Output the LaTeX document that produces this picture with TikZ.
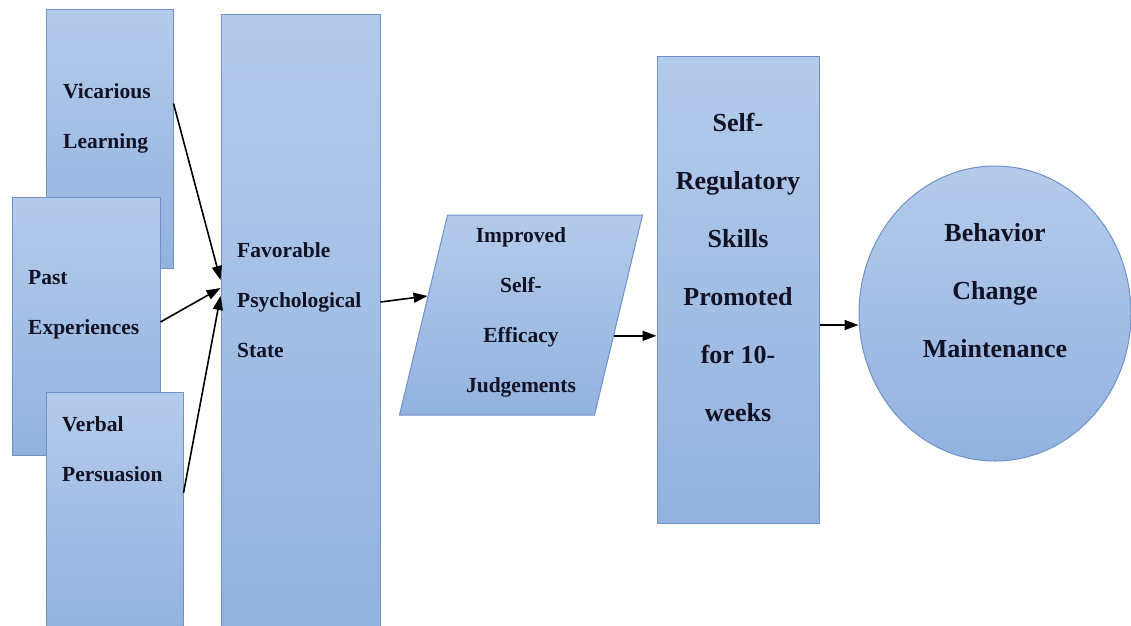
\documentclass[tikz,border=0pt]{standalone}
\usepackage{fontspec}
\setmainfont{Liberation Serif}
\usetikzlibrary{shapes.geometric, arrows.meta}
\definecolor{boxtop}{RGB}{180,203,235}
\definecolor{boxbot}{RGB}{146,178,223}
\definecolor{boxline}{RGB}{112,145,198}
\definecolor{ink}{RGB}{18,18,36}
\tikzstyle{box} = [draw=boxline, line width=1pt, top color=boxtop, bottom color=boxbot, inner sep=0pt]
\tikzstyle{lbl} = [text=ink, font=\bfseries\fontsize{21.5}{50}\selectfont, inner sep=0pt]
\tikzstyle{biglbl} = [text=ink, font=\bfseries\fontsize{26}{58}\selectfont, inner sep=0pt, align=center]
\tikzstyle{arrow} = [line width=1.6pt, -{Triangle[length=14pt,width=10pt]}]

\begin{document}
\begin{tikzpicture}[x=1pt, y=-1pt]
        \useasboundingbox (0,0) rectangle (1131,625);

        \node(vic) [box, shape=rectangle, minimum width=127pt, minimum height=259pt] at (109.5,138.5) {};
        \node(vicT) [lbl, align=left, anchor=west] at (63,118) {Vicarious\\Learning};
        \node(past) [box, shape=rectangle, minimum width=148pt, minimum height=258pt] at (86,326) {};
        \node(pastT) [lbl, align=left, anchor=west] at (28,304.5) {Past\\Experiences};
        \node(verbal) [box, shape=rectangle, minimum width=137pt, minimum height=240pt] at (114.5,512) {};
        \node(verbalT) [lbl, align=left, anchor=west] at (62,449) {Verbal\\Persuasion};

        \node(fav) [box, shape=rectangle, minimum width=159pt, minimum height=618pt] at (300.5,323) {};
        \node(favT) [lbl, align=left, anchor=west] at (237,300) {Favorable\\Psychological\\State};

        \node(ij) [box, shape=rectangle, minimum width=195pt, minimum height=200pt, xslant=0.24, transform shape] at (521,315) {};
        \node(ijT) [lbl, align=center] at (521,312) {Improved\\Self-\\Efficacy\\Judgements};

        \node(sr) [box, shape=rectangle, minimum width=162pt, minimum height=467pt] at (738,289.5) {};
        \node(srT) [biglbl] at (738,267.5) {Self-\\Regulatory\\Skills\\Promoted\\for 10-\\weeks};

        \node(bcm) [box, shape=ellipse, minimum width=272pt, minimum height=295pt] at (995,313.5) {};
        \node(bcmT) [biglbl] at (995,291) {Behavior\\Change\\Maintenance};

        \draw[arrow] ([yshift=35pt]vic.east) -- ([yshift=43pt]fav.west);
        \draw[arrow] ([yshift=4pt]past.east) -- ([yshift=35pt]fav.west);
        \draw[arrow] ([yshift=19pt]verbal.east) -- ([yshift=27pt]fav.west);

        \draw[arrow] ([yshift=21pt]fav.east) -- (ij.169);
        \draw[arrow] (ij.-12) -- (ij.-12 -| sr.west);
        \draw[arrow] ([yshift=-35.5pt]sr.east) -- ([yshift=-35.5pt]sr.east -| bcm.west);
    \end{tikzpicture}
\end{document}
